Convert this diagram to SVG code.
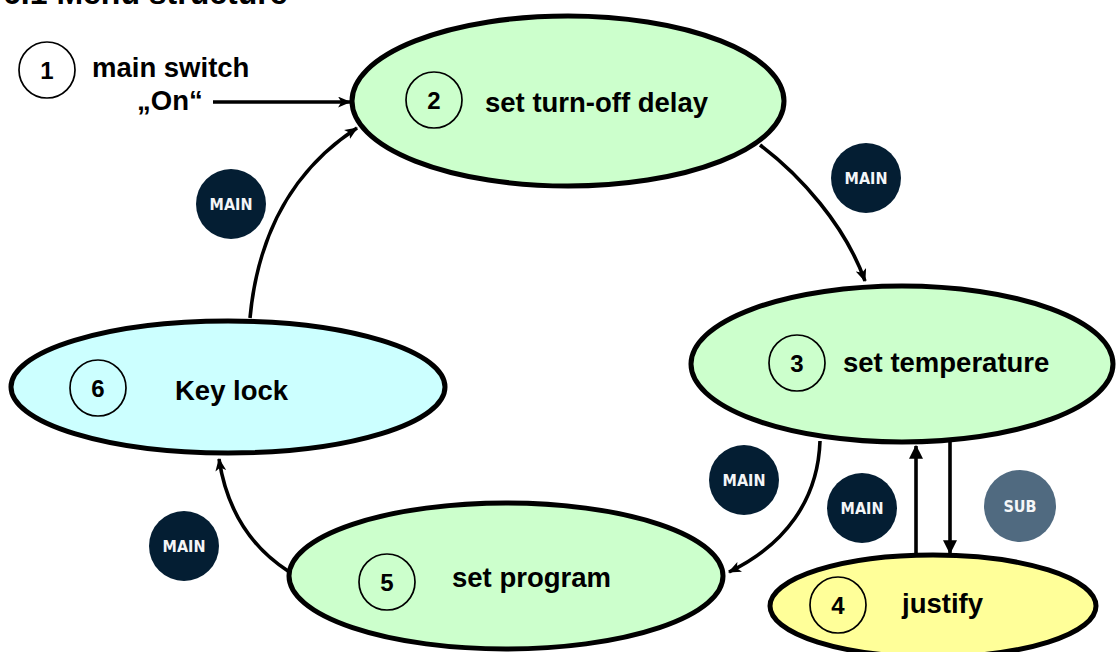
<svg xmlns="http://www.w3.org/2000/svg" width="1120" height="652" viewBox="0 0 1120 652">
<defs>
<style>
.t{font-family:"Liberation Sans",Arial,sans-serif;font-weight:bold;font-size:27.5px;fill:#000}
.d{font-family:"Liberation Sans",Arial,sans-serif;font-weight:bold;font-size:24px;fill:#000;text-anchor:middle}
.st{stroke:#000;stroke-width:5}
.num{fill:none;stroke:#000;stroke-width:1.7}
.c{fill:none;stroke:#000;stroke-width:3.6}
.b{fill:#041e33}
.bs{fill:#506a80}
.bt{font-family:"DejaVu Sans Condensed","DejaVu Sans",sans-serif;font-weight:bold;font-size:16px;fill:#f4f6f8;text-anchor:middle}
</style>
<marker id="ah" viewBox="0 0 12 10" refX="11" refY="5" markerWidth="13" markerHeight="11" markerUnits="userSpaceOnUse" orient="auto">
<path d="M0,0 L12,5 L0,10 L3,5 z" fill="#000"/>
</marker>
<marker id="at" viewBox="0 0 12 12" refX="11" refY="6" markerWidth="14" markerHeight="14" markerUnits="userSpaceOnUse" orient="auto">
<path d="M0,0 L12,6 L0,12 z" fill="#000"/>
</marker>
</defs>
<rect width="1120" height="652" fill="#fff"/>
<text x="3" y="4" class="t" style="font-size:32px">6.1 Menu structure</text>

<g id="connectors">
<path class="c" d="M213,102 L350,102" marker-end="url(#ah)"/>
<path class="c" d="M760,145 C800,175 845,225 865,281" marker-end="url(#ah)"/>
<path class="c" d="M820,441 C818,500 785,545 729,572" marker-end="url(#ah)"/>
<path class="c" d="M288,571 C248,545 226,505 219,459" marker-end="url(#ah)"/>
<path class="c" d="M250,318 C258,232 295,168 357,128" marker-end="url(#ah)"/>
<path class="c" d="M916,556 L916,446" marker-end="url(#at)"/>
<path class="c" d="M950,442 L950,553" marker-end="url(#at)"/>
</g>

<g id="node1">
<circle class="num" cx="47" cy="70" r="28"/>
<text class="d" x="47" y="79">1</text>
<text class="t" x="92" y="77">main switch</text>
<text class="t" x="137" y="110">„On“</text>
</g>

<g id="node2">
<ellipse class="st" cx="568" cy="101" rx="216" ry="85" fill="#ccffcc"/>
<circle class="num" cx="434" cy="100" r="28"/>
<text class="d" x="434" y="109">2</text>
<text class="t" x="485" y="112">set turn-off delay</text>
</g>

<g id="node3">
<ellipse class="st" cx="902" cy="364" rx="211" ry="78" fill="#ccffcc"/>
<circle class="num" cx="797" cy="363" r="28"/>
<text class="d" x="797" y="372">3</text>
<text class="t" x="843" y="372">set temperature</text>
</g>

<g id="node4">
<ellipse class="st" cx="933" cy="606" rx="163" ry="51" fill="#ffff99"/>
<circle class="num" cx="838" cy="605" r="28"/>
<text class="d" x="838" y="614">4</text>
<text class="t" x="902" y="613">justify</text>
</g>

<g id="node5">
<ellipse class="st" cx="506" cy="576" rx="217" ry="73" fill="#ccffcc"/>
<circle class="num" cx="387" cy="582" r="28"/>
<text class="d" x="387" y="591">5</text>
<text class="t" x="452" y="587">set program</text>
</g>

<g id="node6">
<ellipse class="st" cx="228" cy="387" rx="217" ry="66" fill="#ccffff"/>
<circle class="num" cx="98" cy="388" r="28"/>
<text class="d" x="98" y="397">6</text>
<text class="t" x="175" y="400">Key lock</text>
</g>

<g id="badges">
<circle class="b" cx="231" cy="204" r="35"/><text class="bt" x="231" y="210">MAIN</text>
<circle class="b" cx="866" cy="178" r="35"/><text class="bt" x="866" y="184">MAIN</text>
<circle class="b" cx="744" cy="480" r="35"/><text class="bt" x="744" y="486">MAIN</text>
<circle class="b" cx="862" cy="508" r="35"/><text class="bt" x="862" y="514">MAIN</text>
<circle class="bs" cx="1020" cy="506" r="36"/><text class="bt" x="1020" y="512">SUB</text>
<circle class="b" cx="184" cy="546" r="35"/><text class="bt" x="184" y="552">MAIN</text>
</g>
</svg>
